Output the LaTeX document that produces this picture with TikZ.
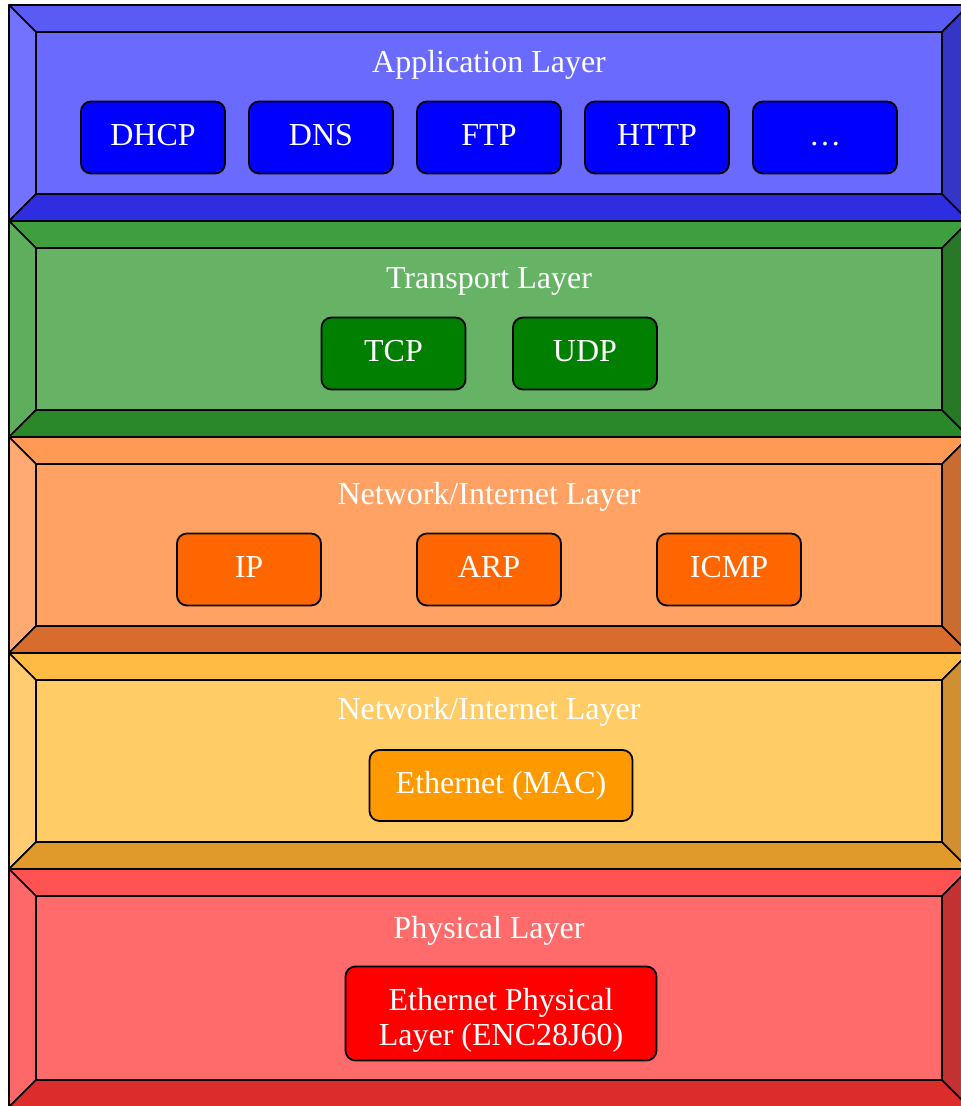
\documentclass[tikz,border=0pt]{standalone}
\usepackage{fontspec}
\setmainfont{Liberation Serif}
\usepackage{tikz}
\usetikzlibrary{positioning}

% Farben der Schichten
\definecolor{faceapp}{HTML}{6A6AFF}
\definecolor{topapp}{HTML}{5A5AF5}
\definecolor{leftapp}{HTML}{7272FF}
\definecolor{botapp}{HTML}{2E2EE0}
\definecolor{rightapp}{HTML}{3636C6}
\definecolor{boxapp}{HTML}{0000FF}

\definecolor{facetrans}{HTML}{66B366}
\definecolor{toptrans}{HTML}{3F9F3F}
\definecolor{lefttrans}{HTML}{5EAE5E}
\definecolor{bottrans}{HTML}{2A882A}
\definecolor{righttrans}{HTML}{287828}
\definecolor{boxtrans}{HTML}{007F00}

\definecolor{facenet}{HTML}{FFA264}
\definecolor{topnet}{HTML}{FF9A54}
\definecolor{leftnet}{HTML}{FFAA72}
\definecolor{botnet}{HTML}{D86C2C}
\definecolor{rightnet}{HTML}{C86C32}
\definecolor{boxnet}{HTML}{FF6600}

\definecolor{facelink}{HTML}{FFCC66}
\definecolor{toplink}{HTML}{FFBB44}
\definecolor{leftlink}{HTML}{FFCC72}
\definecolor{botlink}{HTML}{E09A2C}
\definecolor{rightlink}{HTML}{D09032}
\definecolor{boxlink}{HTML}{FF9900}

\definecolor{facephys}{HTML}{FF6A6A}
\definecolor{topphys}{HTML}{FF5252}
\definecolor{leftphys}{HTML}{FF6868}
\definecolor{botphys}{HTML}{DD2C2C}
\definecolor{rightphys}{HTML}{C23232}
\definecolor{boxphys}{HTML}{FF0000}

\begin{document}
\begin{tikzpicture}[x=1pt, y=-1pt, every node/.style={font=\fontsize{32}{35}\selectfont, text=white}]

        \tikzstyle{bevel}=[draw=black, line width=1.7pt, line join=round]
        \tikzstyle{proto}=[draw=black, line width=1.8pt, rounded corners=10pt, minimum width=144pt, minimum height=72pt, inner sep=0pt]
        \tikzstyle{oneline}=[text height=22pt, text depth=7pt]
        \tikzstyle{title}=[anchor=base, inner sep=0pt]

        \clip (0,0) rectangle (961,1106);
        \fill[white] (0,0) rectangle (961,1106);

        % Schichten mit Rahmen
        \foreach \t/\b/\c in {5/221/app, 221/437/trans, 437/653/net, 653/869/link, 869/1107/phys} {
          \pgfmathsetmacro{\ti}{\t+27}
          \pgfmathsetmacro{\bi}{\b-27}
          \filldraw[bevel, fill=top\c] (9,\t) -- (969,\t) -- (942,\ti) -- (36,\ti) -- cycle;
          \filldraw[bevel, fill=left\c] (9,\t) -- (36,\ti) -- (36,\bi) -- (9,\b) -- cycle;
          \filldraw[bevel, fill=bot\c] (9,\b) -- (36,\bi) -- (942,\bi) -- (969,\b) -- cycle;
          \filldraw[bevel, fill=right\c] (969,\t) -- (942,\ti) -- (942,\bi) -- (969,\b) -- cycle;
          \filldraw[bevel, fill=face\c] (36,\ti) rectangle (942,\bi);
        }

        % Titel
        \node[title] (apptitle) at (489,72) {Application Layer};
        \node[title] (transtitle) at (489,288) {Transport Layer};
        \node[title] (nettitle) at (489,504) {Network/Internet Layer};
        \node[title] (linktitle) at (489,719) {Network/Internet Layer};
        \node[title] (phystitle) at (489,938) {Physical Layer};

        % Application
        \node[proto, oneline, fill=boxapp] (dhcp) at (153,137.5) {DHCP};
        \node[proto, oneline, fill=boxapp, right=22.2pt of dhcp] (dns) {DNS};
        \node[proto, oneline, fill=boxapp, right=22.2pt of dns] (ftp) {FTP};
        \node[proto, oneline, fill=boxapp, right=22.2pt of ftp] (http) {HTTP};
        \node[proto, oneline, fill=boxapp, right=22.2pt of http] (dots) {…};

        % Transport
        \node[proto, oneline, fill=boxtrans] (tcp) at (393.5,353.5) {TCP};
        \node[proto, oneline, fill=boxtrans, right=45.7pt of tcp] (udp) {UDP};

        % Network
        \node[proto, oneline, fill=boxnet] (ip) at (249,569.5) {IP};
        \node[proto, oneline, fill=boxnet, right=94.2pt of ip] (arp) {ARP};
        \node[proto, oneline, fill=boxnet, right=94.2pt of arp] (icmp) {ICMP};

        % Link
        \node[proto, oneline, fill=boxlink, minimum width=263pt, minimum height=71pt] (mac) at (501,785.5) {Ethernet (MAC)};

        % Physical
        \node[proto, fill=boxphys, minimum width=311pt, minimum height=94pt, align=center] (phy) at (501,1013.5) {\rule{0pt}{35pt}Ethernet Physical\\Layer (ENC28J60)};
        \end{tikzpicture}
\end{document}
